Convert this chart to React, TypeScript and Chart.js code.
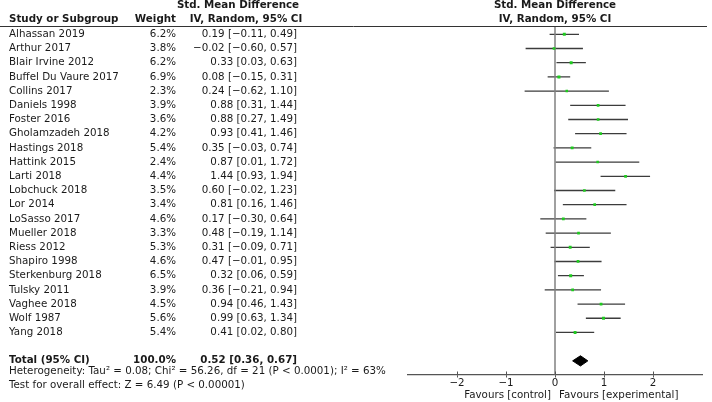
import { useEffect, useRef } from "react";
import { Chart, registerables } from "chart.js";

Chart.register(...registerables);

const studies = [
  "Alhassan 2019", "Arthur 2017", "Blair Irvine 2012", "Buffel Du Vaure 2017", "Collins 2017",
  "Daniels 1998", "Foster 2016", "Gholamzadeh 2018", "Hastings 2018", "Hattink 2015",
  "Larti 2018", "Lobchuck 2018", "Lor 2014", "LoSasso 2017", "Mueller 2018",
  "Riess 2012", "Shapiro 1998", "Sterkenburg 2018", "Tulsky 2011", "Vaghee 2018",
  "Wolf 1987", "Yang 2018",
];
const weights = [6.2, 3.8, 6.2, 6.9, 2.3, 3.9, 3.6, 4.2, 5.4, 2.4, 4.4, 3.5, 3.4, 4.6, 3.3, 5.3, 4.6, 6.5, 3.9, 4.5, 5.6, 5.4];
const smd = [0.19, -0.02, 0.33, 0.08, 0.24, 0.88, 0.88, 0.93, 0.35, 0.87, 1.44, 0.60, 0.81, 0.17, 0.48, 0.31, 0.47, 0.32, 0.36, 0.94, 0.99, 0.41];
const lower = [-0.11, -0.60, 0.03, -0.15, -0.62, 0.31, 0.27, 0.41, -0.03, 0.01, 0.93, -0.02, 0.16, -0.30, -0.19, -0.09, -0.01, 0.06, -0.21, 0.46, 0.63, 0.02];
const upper = [0.49, 0.57, 0.63, 0.31, 1.10, 1.44, 1.49, 1.46, 0.74, 1.72, 1.94, 1.23, 1.46, 0.64, 1.14, 0.71, 0.95, 0.59, 0.94, 1.43, 1.34, 0.80];

const totalLabel = "Total (95% CI)";
const totalWeight = 100.0;
const totalEstimate = 0.52;
const totalLower = 0.36;
const totalUpper = 0.67;

const heterogeneityText = "Heterogeneity: Tau\u00B2 = 0.08; Chi\u00B2 = 56.26, df = 21 (P < 0.0001); I\u00B2 = 63%";
const overallText = "Test for overall effect: Z = 6.49 (P < 0.00001)";

const xTicks = [-2, -1, 0, 1, 2];
const xMin = -3;
const xMax = 3;
const favoursLeft = "Favours [control]";
const favoursRight = "Favours [experimental]";

const FONT = '"DejaVu Sans"';
const FS = 10.3;
const TEXT = "#1a1a1a";

const fmt = (v: number) => (v < 0 ? "\u2212" : "") + Math.abs(v).toFixed(2);

export default function App() {
  const ref = useRef<HTMLCanvasElement | null>(null);

  useEffect(() => {
    const canvas = ref.current;
    if (!canvas) return;
    const totalRow = studies.length + 1;
    const diamondHalf = 0.36;

    const textPlugin = {
      id: "forestText",
      afterDraw(chart: any) {
        const { ctx } = chart;
        const y = chart.scales.y;
        const x = chart.scales.x;
        const area = chart.chartArea;
        const x0 = x.getPixelForValue(0);
        ctx.save();
        // header rule
        ctx.strokeStyle = "#333";
        ctx.lineWidth = 1;
        ctx.beginPath();
        ctx.moveTo(0, area.top + 0.5);
        ctx.lineTo(707, area.top + 0.5);
        ctx.stroke();

        // upward tick parts
        ctx.strokeStyle = "#555";
        ctx.lineWidth = 1;
        xTicks.forEach((t) => {
          const px = Math.round(x.getPixelForValue(t)) + 0.5;
          ctx.beginPath();
          ctx.moveTo(px, area.bottom - 3);
          ctx.lineTo(px, area.bottom);
          ctx.stroke();
        });

        ctx.fillStyle = TEXT;
        ctx.textBaseline = "middle";
        const bold = `bold ${FS}px ${FONT}`;
        const norm = `${FS}px ${FONT}`;

        // headers
        ctx.font = bold;
        ctx.textAlign = "left";
        ctx.fillText("Study or Subgroup", 9, 19.5);
        ctx.textAlign = "right";
        ctx.fillText("Weight", 176, 19.5);
        ctx.textAlign = "center";
        ctx.fillText("Std. Mean Difference", 238, 5.5);
        ctx.fillText("IV, Random, 95% CI", 246, 19.5);
        ctx.fillText("Std. Mean Difference", x0, 5.5);
        ctx.fillText("IV, Random, 95% CI", x0, 19.5);

        // study rows
        ctx.font = norm;
        studies.forEach((s, i) => {
          const py = y.getPixelForValue(i);
          ctx.textAlign = "left";
          ctx.fillText(s, 9, py);
          ctx.textAlign = "right";
          ctx.fillText(weights[i].toFixed(1) + "%", 176, py);
          ctx.fillText(`${fmt(smd[i])} [${fmt(lower[i])}, ${fmt(upper[i])}]`, 297, py);
        });

        // total row
        const ty = y.getPixelForValue(totalRow) - 1;
        ctx.font = bold;
        ctx.textAlign = "left";
        ctx.fillText(totalLabel, 9, ty);
        ctx.textAlign = "right";
        ctx.fillText(totalWeight.toFixed(1) + "%", 176, ty);
        ctx.fillText(`${fmt(totalEstimate)} [${fmt(totalLower)}, ${fmt(totalUpper)}]`, 297, ty);

        ctx.font = norm;
        ctx.textAlign = "left";
        ctx.fillText(heterogeneityText, 9, y.getPixelForValue(totalRow + 0.75));
        ctx.fillText(overallText, 9, y.getPixelForValue(totalRow + 1.75));

        // favours labels
        ctx.textAlign = "right";
        ctx.fillText(favoursLeft, x0 - 4, 395.5);
        ctx.textAlign = "left";
        ctx.fillText(favoursRight, x0 + 4, 395.5);
        ctx.restore();
      },
    };

    const ciData: any[] = [];
    studies.forEach((_, i) => {
      ciData.push({ x: lower[i], y: i }, { x: upper[i], y: i }, { x: null, y: null });
    });

    const chart = new Chart(canvas, {
      type: "scatter",
      data: {
        datasets: [
          {
            label: "SMD",
            data: smd.map((v, i) => ({ x: v, y: i })),
            pointStyle: "rect",
            pointRadius: weights.map((w) => 1.6 + w * 0.08),
            backgroundColor: "#1ecb1e",
            borderWidth: 0,
            showLine: false,
          } as any,
          {
            label: "zero",
            data: [{ x: 0, y: -10 }, { x: 0, y: 40 }],
            showLine: true,
            borderColor: "#808080",
            borderWidth: 1.5,
            pointRadius: 0,
          },
          {
            label: "CI",
            data: ciData,
            showLine: true,
            spanGaps: false,
            borderColor: "#3c3c3c",
            borderWidth: 1.3,
            pointRadius: 0,
          },
          {
            label: "Total",
            data: [
              { x: totalLower, y: totalRow },
              { x: totalEstimate, y: totalRow - diamondHalf },
              { x: totalUpper, y: totalRow },
              { x: totalEstimate, y: totalRow + diamondHalf },
              { x: totalLower, y: totalRow },
            ],
            showLine: true,
            fill: "shape",
            backgroundColor: "#000",
            borderColor: "#000",
            borderWidth: 1,
            pointRadius: 0,
            tension: 0,
          } as any,
        ],
      },
      options: {
        animation: false,
        responsive: false,
        events: [],
        layout: { padding: { left: 408, right: 10, top: 26, bottom: 0 } },
        plugins: { legend: { display: false }, tooltip: { enabled: false } },
        scales: {
          x: {
            type: "linear",
            position: "bottom",
            min: xMin,
            max: xMax,
            afterBuildTicks: (s: any) => {
              s.ticks = xTicks.map((v) => ({ value: v }));
            },
            afterFit: (s: any) => {
              s.height = 27.5;
            },
            ticks: {
              padding: 0,
              color: TEXT,
              font: { family: "DejaVu Sans", size: FS },
              callback: (v: any) => (Number(v) < 0 ? "\u2212" : "") + Math.abs(Number(v)),
            },
            grid: { drawOnChartArea: false, drawTicks: true, tickLength: 3, color: "#555", lineWidth: 1 },
            border: { color: "#555", width: 1.2 },
          },
          y: {
            type: "linear",
            display: false,
            reverse: true,
            min: -0.585,
            max: 23.96,
          },
        },
      },
      plugins: [textPlugin],
    });
    return () => chart.destroy();
  }, []);

  return (
    <div style={{ position: "fixed", left: 0, top: 0, width: 712, height: 402, background: "#fff" }}>
      <canvas ref={ref} width={712} height={402} />
    </div>
  );
}
